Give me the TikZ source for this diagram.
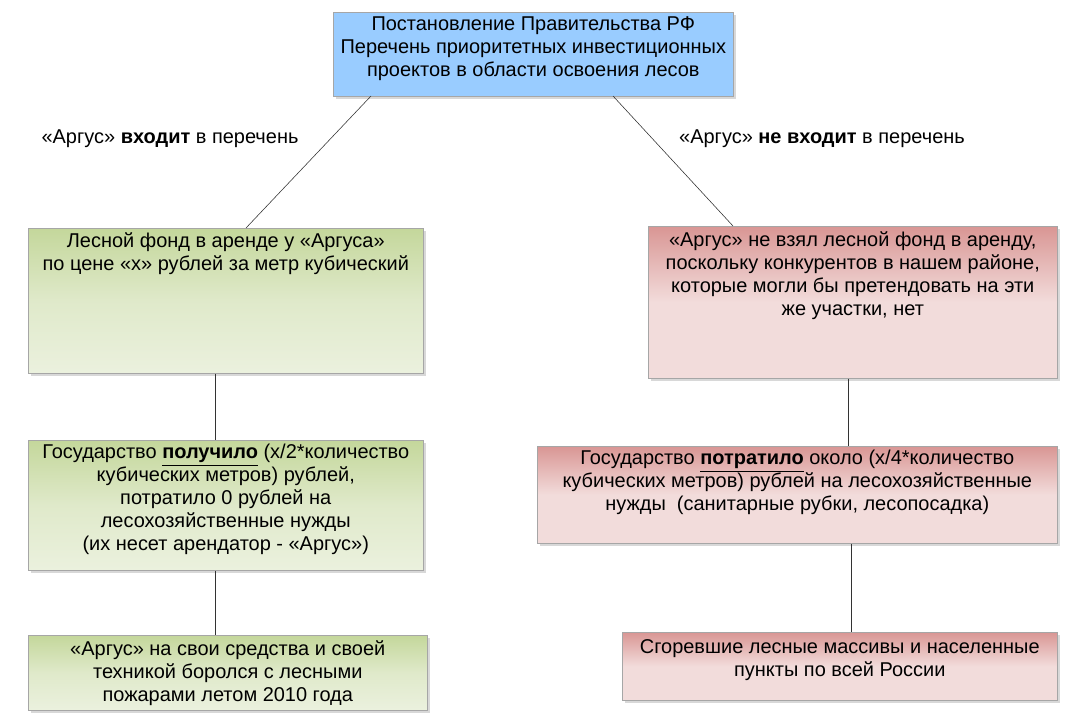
\documentclass[tikz,border=0pt]{standalone}
\usepackage{fontspec}
\setmainfont{Liberation Sans}
\usetikzlibrary{positioning,shadows}
\definecolor{topblue}{RGB}{153,204,255}
\definecolor{grnA}{RGB}{196,215,155}
\definecolor{grnB}{RGB}{235,241,222}
\definecolor{pnkA}{RGB}{217,150,148}
\definecolor{pnkB}{RGB}{242,220,219}
\tikzset{
  box/.style={draw=gray!70, anchor=north west, inner sep=0pt, drop shadow={shadow xshift=2pt, shadow yshift=-2pt, fill=gray!60}},
  greenbox/.style={box, top color=grnA, bottom color=grnB, middle color=grnB!70!grnA},
  pinkbox/.style={box, top color=pnkA, bottom color=pnkB, middle color=pnkB},
  txt/.style={align=center, font=\fontsize{14.2pt}{16.3pt}\selectfont, inner sep=0pt},
  link/.style={draw=black!80}
}
\begin{document}
\begin{tikzpicture}[x=0.025cm, y=-0.025cm]
\useasboundingbox[fill=white] (0,0) rectangle (1077,724);
% boxes
\node[box, fill=topblue, minimum width=400*0.025cm, minimum height=84*0.025cm] (gov) at (333,12) {};
\node[greenbox, minimum width=395*0.025cm, minimum height=145*0.025cm] (lease) at (28,228) {};
\node[pinkbox, minimum width=409*0.025cm, minimum height=152*0.025cm] (nolease) at (648,226) {};
\node[greenbox, minimum width=395*0.025cm, minimum height=130*0.025cm] (got) at (28,440) {};
\node[pinkbox, minimum width=520*0.025cm, minimum height=97*0.025cm] (spent) at (537,446) {};
\node[greenbox, minimum width=399*0.025cm, minimum height=75*0.025cm] (fight) at (28,635) {};
\node[pinkbox, minimum width=435*0.025cm, minimum height=68*0.025cm] (burnt) at (622,632) {};
% texts
\node[txt, below=3pt of gov.north] (govt) {Постановление Правительства РФ\\Перечень приоритетных инвестиционных\\проектов в области освоения лесов};
\node[txt, below=3pt of lease.north] (leaset) {Лесной фонд в аренде у «Аргуса»\\по цене «х» рублей за метр кубический};
\node[txt, below=4pt of nolease.north] (noleaset) {«Аргус» не взял лесной фонд в аренду,\\поскольку конкурентов в нашем районе,\\которые могли бы претендовать на эти\\же участки, нет};
\node[txt, below=3pt of got.north] (gott) {Государство \textbf{\underline{получило}} (х/2*количество\\кубических метров) рублей,\\потратило 0 рублей на\\лесохозяйственные нужды\\(их несет арендатор - «Аргус»)};
\node[txt, below=3pt of spent.north] (spentt) {Государство \textbf{\underline{потратило}} около (х/4*количество\\кубических метров) рублей на лесохозяйственные\\нужды\ \ (санитарные рубки, лесопосадка)};
\node[txt, below=4pt of fight.north] (fightt) {«Аргус» на свои средства и своей\\техникой боролся с лесными\\пожарами летом 2010 года};
\node[txt, below=5pt of burnt.north] (burntt) {Сгоревшие лесные массивы и населенные\\пункты по всей России};
% branch labels
\node[txt] (yes) at (170,139) {«Аргус» \textbf{входит} в перечень};
\node[txt] (no) at (822,139) {«Аргус» \textbf{не входит} в перечень};
% connectors
\coordinate (gl) at (371,96);
\coordinate (gr) at (613,96);
\draw[link] (gl) -- (246,228);
\draw[link] (gr) -- (733,226);
\draw[link] (lease.south -| 215,0) -- (got.north -| 215,0);
\draw[link] (got.south -| 215,0) -- (fight.north -| 215,0);
\draw[link] (nolease.south -| 848,0) -- (spent.north -| 848,0);
\draw[link] (spent.south -| 851,0) -- (burnt.north -| 851,0);
\end{tikzpicture}
\end{document}
